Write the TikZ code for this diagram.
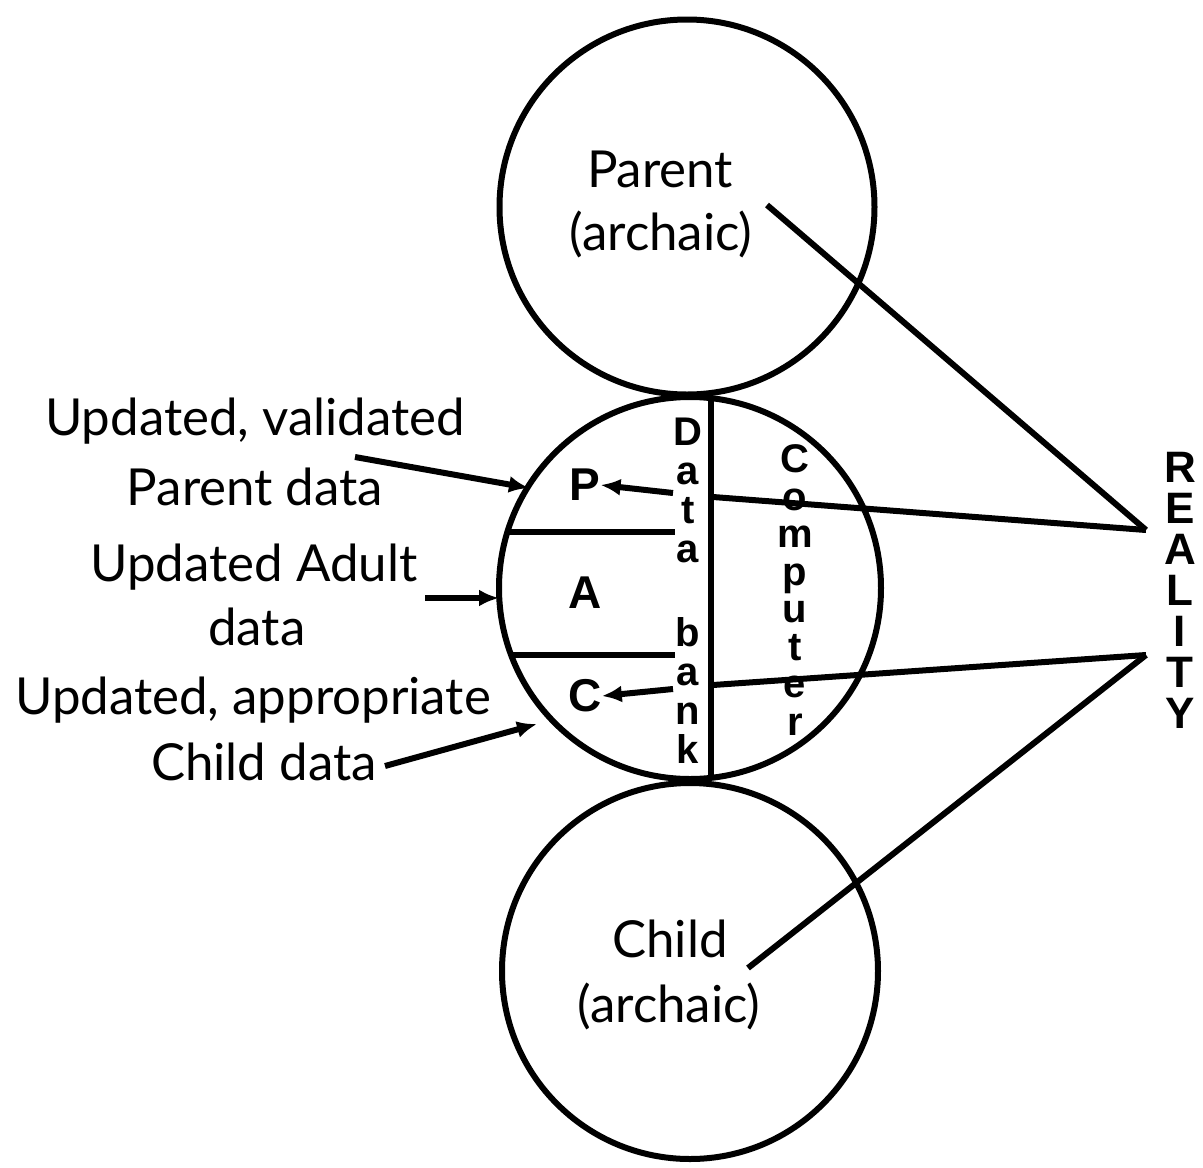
\documentclass[tikz,border=0pt]{standalone}
\usepackage{fontspec}
\usetikzlibrary{arrows.meta}
\newfontfamily\lblfont{Lato}
\newfontfamily\boldfont{Liberation Sans}
\begin{document}
\begin{tikzpicture}[x=1pt,y=-1pt,
  ring/.style={draw,circle,line width=6pt,inner sep=0pt,minimum size=#1},
  lbl/.style={font=\lblfont\fontsize{51}{55}\selectfont,inner sep=0pt,anchor=base},
  tag/.style={font=\boldfont\bfseries\fontsize{46}{46}\selectfont,inner sep=0pt},
  stackv/.style={font=\boldfont\bfseries\fontsize{40}{#1}\selectfont,align=center,inner sep=0pt},
  wire/.style={line width=6pt},
  feed/.style={line width=6pt,-{Latex[length=20pt,width=17pt]}}]
\useasboundingbox (0,0) rectangle (1203,1168);

% the three ego-state circles
\node[ring=375pt] (parent) at (687,207) {};
\node[ring=382pt] (adult)  at (690,588) {};
\node[ring=376pt] (child)  at (690,971) {};

\node[lbl] (ptop) at (660,187) {Parent};
\node[lbl] (pbot) at (661,250) {(archaic)};
\node[lbl] (ctop) at (670,957) {Child};
\node[lbl] (cbot) at (669,1022) {(archaic)};

% inner partitions of the Adult circle
\coordinate (vtop) at (711,396);
\coordinate (vbot) at (711,779);
\draw[wire] (vtop) -- (vbot);
\coordinate (h1a) at (508,532);
\coordinate (h1b) at (675,532);
\coordinate (h2a) at (512,655);
\coordinate (h2b) at (675,655);
\draw[wire] (h1a) -- (h1b);
\draw[wire] (h2a) -- (h2b);

\node[tag] (P) at (585,485) {P};
\node[tag] (A) at (585,593) {A};
\node[tag] (C) at (585,696) {C};

\coordinate (parr) at (673,493);
\coordinate (carr) at (673,689);
\draw[feed] (parr) -- (P.east);
\draw[feed] (carr) -- (C.east);

\node[stackv=39] (data) at (688,490) {D\\a\\t\\a};
\node[stackv=39] (bank) at (688,690) {b\\a\\n\\k};
\node[stackv=37.5] (comp) at (795,590) {C\\o\\m\\p\\u\\t\\e\\r};

% reality and its links
\node[font=\boldfont\bfseries\fontsize{44}{41}\selectfont,align=center,inner sep=0pt] (real) at (1180,590) {R\\E\\A\\L\\I\\T\\Y};
\coordinate (rtop) at (1146,530);
\coordinate (rbot) at (1146,655);
\coordinate (pin)  at (767,205);
\coordinate (cin)  at (748,968);
\coordinate (pline) at (713,497);
\coordinate (cline) at (713,685);
\draw[wire] (pin) -- (rtop);
\draw[wire] (pline) -- (rtop);
\draw[wire] (cline) -- (rbot);
\draw[wire] (cin) -- (rbot);

% incoming updated data
\node[lbl] (l1) at (255,435) {Updated, validated};
\node[lbl] (l2) at (255,505) {Parent data};
\node[lbl] (l3) at (254,581) {Updated Adult};
\node[lbl] (l4) at (257,645) {data};
\node[lbl] (l5) at (253,714) {Updated, appropriate};
\node[lbl] (l6) at (264,780) {Child data};

\coordinate (t1) at (355,457);
\coordinate (e1) at (529,488);
\coordinate (t2) at (425,598);
\coordinate (e2) at (499,598);
\coordinate (t3) at (385,766);
\coordinate (e3) at (537,724);
\draw[feed] (t1) -- (e1);
\draw[feed] (t2) -- (e2);
\draw[feed] (t3) -- (e3);
\end{tikzpicture}
\end{document}
